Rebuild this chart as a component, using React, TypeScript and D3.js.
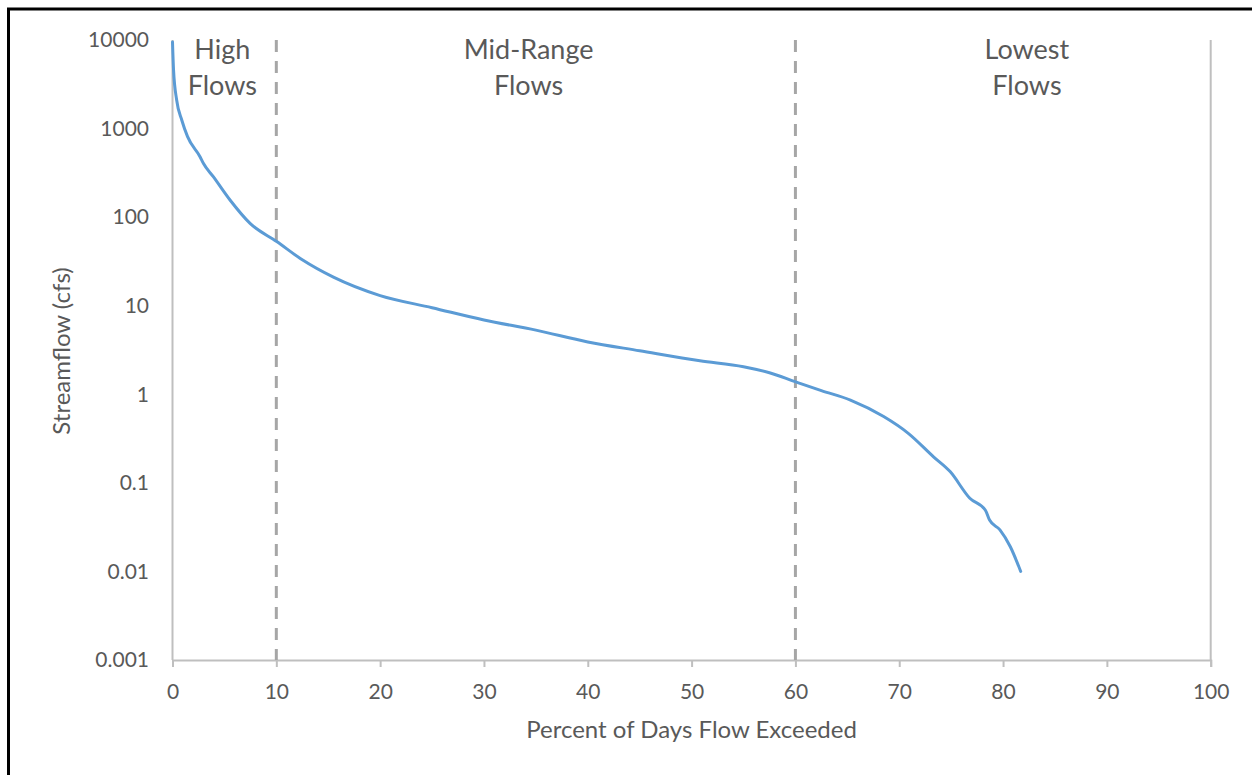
import React, { useEffect, useRef } from "react";
import * as d3 from "d3";

// flow duration curve
const pctExceeded = [
  0, 0.1, 0.4, 0.89, 1.45, 2.65, 2.97, 3.93, 5.54, 7.47, 10.04, 12.5, 15.5, 20, 25, 30, 35,
  40, 45, 50.8, 55, 57.5, 59.96, 62.5, 65.3, 68.5, 70.9, 73.3, 74.9, 76.8, 78.3, 78.7, 79.7, 80.7, 81.7,
];
const flowCfs = [
  9500, 4600, 2100, 1250, 810, 481, 405, 286, 156, 85, 53, 33, 21, 13, 9.5, 6.9, 5.3,
  3.9, 3.1, 2.39, 2.05, 1.75, 1.39, 1.1, 0.86, 0.56, 0.36, 0.197, 0.134, 0.067, 0.049, 0.038, 0.0295, 0.019, 0.01,
];

const xTicks = [0, 10, 20, 30, 40, 50, 60, 70, 80, 90, 100];
const yTicks = [0.001, 0.01, 0.1, 1, 10, 100, 1000, 10000];
const yTickLabels = ["0.001", "0.01", "0.1", "1", "10", "100", "1000", "10000"];

const dividers = [10, 60];
const regionNames = [
  ["High", "Flows"],
  ["Mid-Range", "Flows"],
  ["Lowest", "Flows"],
];
const regionCenters = [4.8, 34.3, 82.3];

const App = () => {
  const svgRef = useRef<SVGSVGElement>(null);

  useEffect(() => {
    const svg = d3.select(svgRef.current);
    svg.selectAll("*").remove();

    const width = 1252;
    const height = 775;
    const font = "Lato, 'Open Sans', sans-serif";
    const textColor = "#595959";

    const x = d3.scaleLinear().domain([0, 100]).range([172.5, 1210.7]);
    const y = d3.scaleLog().domain([0.001, 10000]).range([660, 40]);

    svg.append("rect").attr("width", width).attr("height", height).attr("fill", "#fff");

    // frame (left and top edges only)
    svg
      .append("path")
      .attr("d", `M8.5,${height} V9 H${width}`)
      .attr("fill", "none")
      .attr("stroke", "#000")
      .attr("stroke-width", 3);

    // axis lines
    [0, 100].forEach((v) => {
      svg
        .append("line")
        .attr("x1", x(v))
        .attr("x2", x(v))
        .attr("y1", y(10000))
        .attr("y2", y(0.001))
        .attr("stroke", "#bfbfbf")
        .attr("stroke-width", 2);
    });

    const xAxis = svg
      .append("g")
      .attr("transform", `translate(0,${y(0.001)})`)
      .call(d3.axisBottom(x).tickValues(xTicks).tickSize(7).tickPadding(17).tickFormat(d3.format("d")));
    xAxis.select(".domain").attr("stroke", "#bfbfbf").attr("stroke-width", 2);
    xAxis.selectAll(".tick line").attr("stroke", "#bfbfbf").attr("stroke-width", 2);
    xAxis
      .selectAll(".tick text")
      .attr("fill", textColor)
      .style("font-family", font)
      .style("font-size", "21px");

    // y tick labels (no tick marks)
    svg
      .append("g")
      .selectAll("text")
      .data(yTicks)
      .enter()
      .append("text")
      .attr("x", 149)
      .attr("y", (d) => y(d))
      .attr("dy", "0.35em")
      .attr("text-anchor", "end")
      .attr("fill", textColor)
      .style("font-family", font)
      .style("font-size", "21px")
      .text((d, i) => yTickLabels[i]);

    // dashed region dividers
    svg
      .selectAll(".divider")
      .data(dividers)
      .enter()
      .append("line")
      .attr("class", "divider")
      .attr("x1", (d) => x(d))
      .attr("x2", (d) => x(d))
      .attr("y1", y(10000))
      .attr("y2", y(0.001))
      .attr("stroke", "#a6a6a6")
      .attr("stroke-width", 3)
      .attr("stroke-dasharray", "12,9");

    // region labels
    regionNames.forEach((lines, i) => {
      lines.forEach((t, j) => {
        svg
          .append("text")
          .attr("x", x(regionCenters[i]))
          .attr("y", 59 + j * 36)
          .attr("text-anchor", "middle")
          .attr("fill", textColor)
          .style("font-family", font)
          .style("font-size", "27px")
          .text(t);
      });
    });

    // the curve
    const pts = pctExceeded.map((p, i) => [p, flowCfs[i]] as [number, number]);
    svg
      .append("path")
      .datum(pts)
      .attr("fill", "none")
      .attr("stroke", "#5b9bd5")
      .attr("stroke-width", 3)
      .attr("stroke-linejoin", "round")
      .attr("stroke-linecap", "round")
      .attr(
        "d",
        d3
          .line<[number, number]>()
          .x((d) => x(d[0]))
          .y((d) => y(d[1]))
          .curve(d3.curveMonotoneX)
      );

    // axis titles
    svg
      .append("text")
      .attr("x", x(50))
      .attr("y", 738)
      .attr("text-anchor", "middle")
      .attr("fill", textColor)
      .style("font-family", font)
      .style("font-size", "24px")
      .text("Percent of Days Flow Exceeded");

    svg
      .append("text")
      .attr("transform", `translate(70,351) rotate(-90)`)
      .attr("text-anchor", "middle")
      .attr("fill", textColor)
      .style("font-family", font)
      .style("font-size", "24px")
      .text("Streamflow (cfs)");
  }, []);

  return (
    <svg
      ref={svgRef}
      width={1252}
      height={775}
      style={{ position: "absolute", left: 0, top: 0 }}
    ></svg>
  );
};

export default App;
